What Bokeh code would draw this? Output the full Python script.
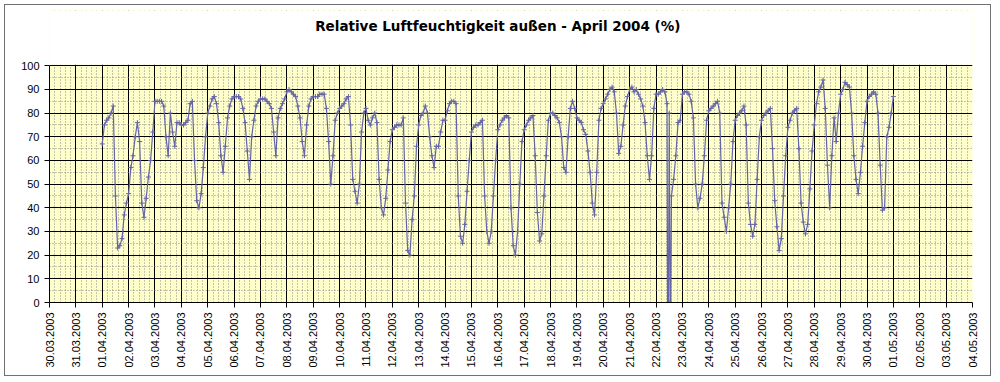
import numpy as np
from bokeh.plotting import figure
from bokeh.models import FixedTicker, ColumnDataSource, Range1d, Label, BoxAnnotation
from bokeh.embed import file_html
from bokeh.resources import INLINE

TITLE = "Relative Luftfeuchtigkeit außen - April 2004 (%)"

# axis tick labels (one per day, axis position 0 = 30.03.)
tick_labels = (["30.03.2003", "31.03.2003"]
               + [f"{d:02d}.04.2003" for d in range(1, 31)]
               + ["01.05.2003", "02.05.2003", "03.05.2003", "04.05.2003"])
y_ticks = [0, 10, 20, 30, 40, 50, 60, 70, 80, 90, 100]

# two-hourly readings (00,02,...,22 h), one list per day, 01.04. - 30.04.
sample_hours = [0, 2, 4, 6, 8, 10, 12, 14, 16, 18, 20, 22]
rh_2h = [
    [67, 75, 77, 78, 80, 83, 45, 23, 24, 27, 37, 42],   # 01.04
    [46, 57, 62, 70, 76, 68, 42, 36, 44, 53, 60, 72],   # 02.04
    [85, 85, 85, 85, 83, 70, 62, 80, 72, 66, 76, 76],   # 03.04
    [75, 75, 76, 77, 84, 85, 60, 43, 40, 46, 57, 70],   # 04.04
    [80, 83, 86, 87, 84, 76, 62, 55, 66, 78, 83, 86],   # 05.04
    [87, 87, 87, 86, 82, 76, 64, 52, 70, 77, 83, 85],   # 06.04
    [86, 86, 86, 85, 84, 82, 72, 62, 78, 82, 84, 86],   # 07.04
    [89, 90, 89, 88, 87, 83, 78, 68, 62, 75, 83, 86],   # 08.04
    [87, 87, 87, 88, 88, 88, 82, 68, 50, 62, 77, 80],   # 09.04
    [82, 83, 84, 86, 87, 75, 52, 47, 42, 50, 72, 80],   # 10.04
    [82, 77, 75, 78, 80, 76, 52, 40, 37, 44, 56, 68],   # 11.04
    [73, 74, 75, 75, 75, 78, 42, 22, 20, 35, 45, 66],   # 12.04
    [75, 79, 80, 83, 80, 70, 62, 57, 66, 66, 72, 77],   # 13.04
    [77, 81, 84, 85, 85, 84, 45, 28, 25, 33, 47, 60],   # 14.04
    [72, 74, 75, 75, 76, 77, 45, 30, 25, 30, 45, 60],   # 15.04
    [73, 75, 77, 78, 79, 78, 40, 24, 20, 30, 50, 68],   # 16.04
    [73, 75, 77, 78, 79, 62, 38, 26, 29, 45, 62, 77],   # 17.04
    [80, 80, 79, 78, 76, 70, 57, 55, 70, 82, 85, 82],   # 18.04
    [78, 77, 76, 73, 71, 64, 55, 42, 37, 55, 77, 82],   # 19.04
    [84, 86, 88, 90, 91, 89, 80, 63, 66, 75, 83, 87],   # 20.04
    [90, 91, 89, 90, 88, 86, 83, 76, 62, 52, 62, 82],   # 21.04
    [88, 88, 89, 90, 89, 84, 80, 45, 52, 62, 76, 77],   # 22.04
    [88, 89, 89, 88, 85, 78, 50, 40, 44, 50, 62, 77],   # 23.04
    [81, 82, 83, 84, 85, 80, 42, 36, 30, 40, 50, 68],   # 24.04
    [77, 79, 80, 81, 83, 75, 42, 33, 28, 33, 52, 70],   # 25.04
    [77, 79, 80, 81, 82, 65, 43, 32, 22, 27, 45, 62],   # 26.04
    [74, 77, 80, 81, 82, 65, 42, 34, 29, 33, 48, 64],   # 27.04
    [75, 84, 89, 91, 94, 82, 58, 40, 62, 78, 68, 80],   # 28.04
    [88, 90, 93, 92, 91, 80, 62, 52, 46, 55, 66, 76],   # 29.04
    [85, 87, 88, 89, 88, 80, 58, 39, 40, 70, 74, 80],   # 30.04
]
rh_0105_0000 = 87          # last reading, 01.05. 00:00

# sensor drop-outs on 22.04. (hour of day, reading)
dropout_hours = [10.5, 11.3, 12.8, 13.4]
dropout_values = [0, 0, 0, 0]

FIRST_DAY_POS = 2      # 01.04. on the axis
DROPOUT_DAY_POS = 23   # 22.04. on the axis

xs, ys = [], []
for di, vals in enumerate(rh_2h):
    for h, v in zip(sample_hours, vals):
        xs.append(FIRST_DAY_POS + di + h / 24.0)
        ys.append(v)
xs.append(FIRST_DAY_POS + len(rh_2h))
ys.append(rh_0105_0000)
for h, v in zip(dropout_hours, dropout_values):
    xs.append(DROPOUT_DAY_POS + h / 24.0)
    ys.append(v)
order = np.argsort(xs)
src = ColumnDataSource(dict(x=np.array(xs)[order], y=np.array(ys)[order]))

n_days = len(tick_labels) - 1
Y_TOP = 123.36   # frame extends above 100 so the title can sit inside it

p = figure(width=987, height=372, title=None,
           x_range=Range1d(0, n_days), y_range=Range1d(0, Y_TOP),
           output_backend="svg", toolbar_location=None,
           min_border_left=44, min_border_right=20,
           min_border_top=5, min_border_bottom=75,
           background_fill_color="#FFFFCC", border_fill_color="white")
p.styles = {"border": "1px solid #707070", "margin": "4px 0px 0px 4px"}
p.outline_line_color = None

SERIES = "#6464A8"
p.line("x", "y", source=src, line_color=SERIES, line_width=1.2)
p.scatter("x", "y", source=src, marker="cross", size=5, line_color=SERIES, line_width=1)

# white area above the 0..100 plot area (title region)
p.add_layout(BoxAnnotation(bottom=100.45, fill_color="white", fill_alpha=1.0,
                           line_color=None))
p.add_layout(Label(x=17.0, y=117.0, text=TITLE,
                   text_align="center", text_baseline="middle",
                   text_font="DejaVu Sans", text_font_size="13.5px",
                   text_font_style="bold", text_color="black"))

minor_x = [d + k * 0.2 for d in range(n_days) for k in range(1, 5)]
p.xaxis.ticker = FixedTicker(ticks=list(range(n_days + 1)), minor_ticks=minor_x)
p.xaxis.major_label_overrides = {i: lbl for i, lbl in enumerate(tick_labels)}
p.xaxis.major_label_orientation = np.pi / 2
p.yaxis.ticker = FixedTicker(ticks=y_ticks, minor_ticks=[5, 15, 25, 35, 45, 55, 65, 75, 85, 95])
p.yaxis.bounds = (0, 100)

for ax in (p.xaxis, p.yaxis):
    ax.axis_line_color = "black"
    ax.major_tick_line_color = "black"
    ax.major_tick_out = 5
    ax.major_tick_in = 0
    ax.minor_tick_line_color = None
    ax.major_label_text_font = "Liberation Sans"
    ax.major_label_text_font_size = "11px"
    ax.major_label_text_color = "black"
    ax.major_label_standoff = 5

for g in (p.xgrid, p.ygrid):
    g.grid_line_color = "black"
    g.grid_line_width = 1
    g.minor_grid_line_color = "#8a8a8a"
    g.minor_grid_line_dash = "1 2"
    g.minor_grid_line_width = 1

open("out.html", "w").write(file_html(p, INLINE))
